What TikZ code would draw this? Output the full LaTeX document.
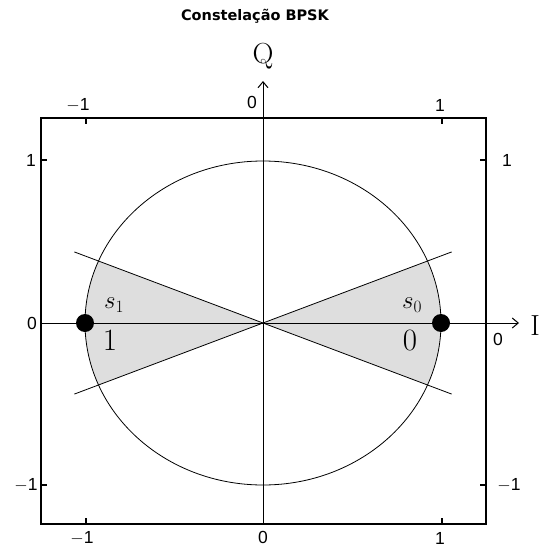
\documentclass[tikz,border=0pt]{standalone}
\usepackage{fontspec}
\newfontfamily\titlefont{DejaVu Sans}
\newfontfamily\tickfont{Liberation Sans}
\usetikzlibrary{arrows.meta}
\tikzset{
  frame/.style={line width=1.1pt},
  thinline/.style={line width=0.8pt},
  axisline/.style={line width=1pt,-{Straight Barb[length=6pt,width=10pt]}},
  tickmark/.style={line width=2pt},
  ticklbl/.style={font=\tickfont\fontsize{17.5}{17.5}\selectfont, inner sep=0pt},
  bigmath/.style={font=\fontsize{27}{27}\selectfont, inner sep=0pt},
  bigdigit/.style={font=\fontsize{31}{31}\selectfont, inner sep=0pt},
  axislbl/.style={font=\fontsize{29}{29}\selectfont, inner sep=0pt},
  symbolpt/.style={circle, fill=black, minimum size=18pt, inner sep=0pt},
  sector/.style={fill=black!13},
}
\begin{document}
\begin{tikzpicture}[x=1pt,y=1pt]
\useasboundingbox (0,0) rectangle (542,-548);
\coordinate (O) at (263,-323);
% shaded sectors
\fill[sector] (O) -- (427.45,-385) arc[start angle=-22.5, end angle=22.5, x radius=178, y radius=162] -- cycle;
\fill[sector] (O) -- (98.55,-261) arc[start angle=157.5, end angle=202.5, x radius=178, y radius=162] -- cycle;
% circle
\draw[thinline] (O) ellipse [x radius=178, y radius=162];
% decision lines
\coordinate (ul) at (74.3,-251.9);
\coordinate (lr) at (451.7,-394.1);
\coordinate (ll) at (74.3,-394.1);
\coordinate (ur) at (451.7,-251.9);
\draw[thinline] (ul) -- (lr);
\draw[thinline] (ll) -- (ur);
% frame
\draw[frame] (41,-118) rectangle (486,-524);
% axes
\coordinate (xstart) at (41,-323);
\coordinate (xend) at (519,-323);
\coordinate (ystart) at (263,-524);
\coordinate (yend) at (263,-81);
\draw[axisline] (xstart) -- (xend);
\draw[axisline] (ystart) -- (yend);
% ticks
\draw[tickmark] (86,-118) -- (86,-124);
\draw[tickmark] (442,-118) -- (442,-124);
\draw[tickmark] (86,-524) -- (86,-518);
\draw[tickmark] (442,-524) -- (442,-518);
\draw[tickmark] (41,-160) -- (47,-160);
\draw[tickmark] (41,-485) -- (47,-485);
\draw[tickmark] (486,-160) -- (480,-160);
\draw[tickmark] (486,-485) -- (480,-485);
% tick labels
\node[ticklbl] (t1) at (78,-105) {$-$1};
\node[ticklbl] (t2) at (252,-102) {0};
\node[ticklbl] (t3) at (440,-105) {1};
\node[ticklbl] (b1) at (82,-538) {$-$1};
\node[ticklbl] (b2) at (263,-537.5) {0};
\node[ticklbl] (b3) at (440,-538) {1};
\node[ticklbl] (l1) at (31,-160) {1};
\node[ticklbl] (l2) at (32,-323) {0};
\node[ticklbl] (l3) at (26,-485) {$-$1};
\node[ticklbl] (r1) at (507,-160) {1};
\node[ticklbl] (r2) at (498,-339) {0};
\node[ticklbl] (r3) at (509,-485) {$-$1};
% symbols
\node[symbolpt] (s1) at (85,-323) {};
\node[symbolpt] (s0) at (441,-323) {};
\node[bigmath] (s1lbl) at (114,-305) {$s_1$};
\node[bigdigit] (s1bit) at (110,-340) {1};
\node[bigmath] (s0lbl) at (412,-305) {$s_0$};
\node[bigdigit] (s0bit) at (410,-340) {0};
% axis labels
\node[axislbl] (Q) at (263,-56) {Q};
\node[axislbl] (I) at (535,-326) {I};
% title
\node[font=\titlefont\bfseries\fontsize{14.5}{14.5}\selectfont, inner sep=0pt] (title) at (255,-16) {Constelação BPSK};
\end{tikzpicture}
\end{document}
